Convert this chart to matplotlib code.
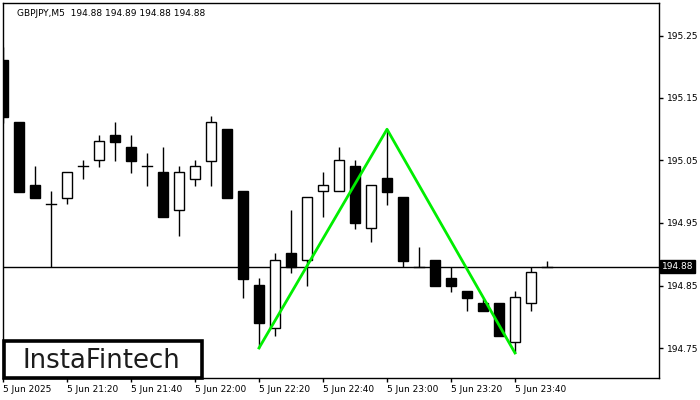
import matplotlib
matplotlib.use("Agg")
import matplotlib.pyplot as plt
from matplotlib.patches import Rectangle
import matplotlib.transforms as mtransforms

# ---- data ----
times = ["21:00", "21:05", "21:10", "21:15", "21:20", "21:25", "21:30", "21:35",
         "21:40", "21:45", "21:50", "21:55", "22:00", "22:05", "22:10", "22:15",
         "22:20", "22:25", "22:30", "22:35", "22:40", "22:45", "22:50", "22:55",
         "23:00", "23:05", "23:10", "23:15", "23:20", "23:25", "23:30", "23:35",
         "23:40", "23:45", "23:50"]
opens = [195.211, 195.112, 195.011, 194.980, 194.990, 195.041, 195.051, 195.091,
         195.072, 195.041, 195.032, 194.971, 195.020, 195.049, 195.100, 195.001,
         194.851, 194.782, 194.902, 194.891, 195.001, 195.001, 195.041, 194.942,
         195.022, 194.992, 194.880, 194.891, 194.862, 194.841, 194.822, 194.822,
         194.760, 194.822, 194.880]
highs = [195.232, 195.112, 195.041, 195.001, 195.032, 195.051, 195.091, 195.112,
         195.091, 195.062, 195.072, 195.041, 195.051, 195.121, 195.100, 195.001,
         194.862, 194.902, 194.971, 194.992, 195.032, 195.072, 195.051, 195.011,
         195.100, 194.992, 194.912, 194.891, 194.880, 194.841, 194.828, 194.822,
         194.841, 194.880, 194.890]
lows = [195.110, 195.000, 194.990, 194.880, 194.980, 195.020, 195.040, 195.049,
        195.030, 195.009, 194.960, 194.929, 195.009, 195.009, 194.990, 194.830,
        194.750, 194.769, 194.870, 194.850, 194.960, 195.001, 194.940, 194.920,
        194.979, 194.880, 194.880, 194.850, 194.840, 194.809, 194.809, 194.769,
        194.742, 194.809, 194.880]
closes = [195.120, 195.000, 194.990, 194.980, 195.032, 195.041, 195.081, 195.080,
          195.049, 195.041, 194.960, 195.032, 195.041, 195.112, 194.990, 194.860,
          194.790, 194.891, 194.880, 194.992, 195.011, 195.051, 194.950, 195.011,
          195.000, 194.889, 194.880, 194.850, 194.850, 194.830, 194.809, 194.769,
          194.832, 194.872, 194.880]

pattern_times = ["22:20", "23:00", "23:40"]
pattern_prices = [194.750, 195.100, 194.742]

last_price = 194.88
header = "GBPJPY,M5  194.88 194.89 194.88 194.88"

tick_times = ["21:00", "21:20", "21:40", "22:00", "22:20", "22:40", "23:00", "23:20", "23:40"]
tick_labels = ["5 Jun 2025", "5 Jun 21:20", "5 Jun 21:40", "5 Jun 22:00", "5 Jun 22:20",
               "5 Jun 22:40", "5 Jun 23:00", "5 Jun 23:20", "5 Jun 23:40"]
y_ticks = [194.75, 194.85, 194.95, 195.05, 195.15, 195.25]

# ---- figure ----
fig = plt.figure(figsize=(7, 4), dpi=100)
ax = fig.add_axes([3 / 700, 1 - 378 / 400, 656 / 700, 375 / 400])
ax.set_facecolor("white")

xs = list(range(len(times)))
body_w = 0.66
for x, o, h, l, c in zip(xs, opens, highs, lows, closes):
    ax.plot([x, x], [l, h], color="black", lw=1.0, zorder=2, solid_capstyle="butt")
    bottom = min(o, c)
    height = abs(c - o)
    if height < 0.004:
        ax.plot([x - body_w / 2, x + body_w / 2], [o, o], color="black", lw=1.0, zorder=3)
    else:
        face = "white" if c > o else "black"
        ax.add_patch(Rectangle((x - body_w / 2, bottom), body_w, height,
                               facecolor=face, edgecolor="black", lw=1.0, zorder=3))

# last price line
ax.axhline(last_price, color="black", lw=1.0, zorder=1)

# double bottom pattern
px = [times.index(t) for t in pattern_times]
ax.plot(px, pattern_prices, color="#00ee00", lw=2.0, zorder=4)

ax.set_xlim(0, 41)
ax.set_ylim(194.702, 195.302)

# axes styling
for s in ax.spines.values():
    s.set_color("black")
    s.set_linewidth(1.0)

ax.yaxis.tick_right()
ax.set_yticks(y_ticks)
ax.set_yticklabels([f"{v:.2f}" for v in y_ticks])
ax.tick_params(axis="y", direction="out", length=3, width=1, pad=3,
               labelsize=6.5, colors="black")
ax.set_xticks([times.index(t) for t in tick_times])
ax.set_xticklabels(tick_labels, ha="left")
ax.tick_params(axis="x", direction="out", length=3, width=1, pad=2,
               labelsize=6.5, colors="black")

# header
ax.text(0.021, 0.985, header, transform=ax.transAxes, fontsize=6.5,
        va="top", ha="left", color="black")

# last price label
trans = mtransforms.blended_transform_factory(ax.transAxes, ax.transData)
ax.text(1.004, last_price, "194.88", transform=trans, fontsize=6.5, color="white",
        va="center", ha="left",
        bbox=dict(boxstyle="square,pad=0.2", facecolor="black", edgecolor="black"))

# logo
fig.patches.append(Rectangle((3.5 / 700, 1 - 377.5 / 400), 198 / 700, 36.5 / 400,
                             transform=fig.transFigure, facecolor="white",
                             edgecolor="black", lw=2.6, zorder=10))
fig.text(101.5 / 700, 1 - 368 / 400, "InstaFintech", fontsize=18.7, color="#1c1c1c",
         ha="center", va="baseline", family="DejaVu Sans", zorder=11)

fig.savefig("out.png", dpi=100, facecolor="white")
